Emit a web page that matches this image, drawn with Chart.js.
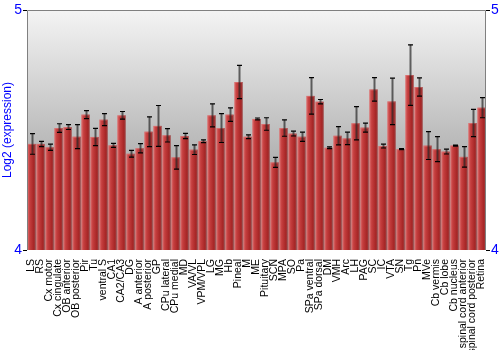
<!DOCTYPE html>
<html>
<head>
<meta charset="utf-8">
<script src="https://cdn.jsdelivr.net/npm/chart.js@4"></script>
<style>
  html, body { margin: 0; padding: 0; background: #fff; }
  #wrap { width: 500px; height: 350px; }
</style>
</head>
<body>
<div id="wrap"><canvas id="expr"></canvas></div>
<script>
const labels = ['LS', 'RS', 'Cx motor', 'Cx cingulate', 'OB anterior', 'OB posterior', 'Pir', 'Tu',
    'ventral S', 'CA1', 'CA2/CA3', 'DG', 'A anterior', 'A posterior', 'GP', 'CPu lateral', 'CPu medial',
    'MD', 'VA/VL', 'VPM/VPL', 'LG', 'MG', 'Hb', 'Pineal', 'M', 'ME', 'Pituitary', 'SCN', 'MPA', 'SO',
    'Pa', 'SPa ventral', 'SPa dorsal', 'DM', 'VMH', 'Arc', 'LH', 'PAG', 'SC', 'IC', 'VTA', 'SN', 'Tg',
    'Pn', 'MVe', 'Cb vermis', 'Cb lobe', 'Cb nucleus', 'spinal cord anterior', 'spinal cord posterior', 'Retina'];
const values = [4.442, 4.442, 4.428, 4.508, 4.512, 4.472, 4.564, 4.471,
    4.543, 4.436, 4.561, 4.401, 4.424, 4.493, 4.517, 4.478, 4.386,
    4.475, 4.418, 4.453, 4.561, 4.508, 4.564, 4.700, 4.472, 4.546, 4.525, 4.365, 4.508, 4.485,
    4.472, 4.642, 4.618, 4.426, 4.476, 4.465, 4.528, 4.510, 4.669, 4.433, 4.619, 4.420, 4.729,
    4.679, 4.435, 4.420, 4.410, 4.435, 4.388, 4.529, 4.593];
const errors = [0.043, 0.011, 0.013, 0.018, 0.010, 0.050, 0.017, 0.036,
    0.025, 0.008, 0.016, 0.014, 0.019, 0.062, 0.085, 0.028, 0.049,
    0.011, 0.020, 0.006, 0.048, 0.060, 0.028, 0.069, 0.008, 0.004, 0.026, 0.021, 0.034, 0.010,
    0.019, 0.076, 0.009, 0.004, 0.038, 0.026, 0.069, 0.019, 0.049, 0.008, 0.097, 0.002, 0.126,
    0.038, 0.058, 0.052, 0.010, 0.002, 0.043, 0.057, 0.042];
const yTicks = [4, 5];

// grey gradient behind the bars + frame
const plotBack = {
    id: 'plotBack',
    beforeDatasetsDraw(chart) {
        const {ctx, chartArea: a} = chart;
        const g = ctx.createLinearGradient(0, a.top, 0, a.bottom);
        g.addColorStop(0, '#f4f4f4');
        g.addColorStop(1, '#8a8a8a');
        ctx.save();
        ctx.fillStyle = g;
        ctx.fillRect(a.left, a.top, a.right - a.left, a.bottom - a.top);
        ctx.restore();
    },
    afterDraw(chart) {
        const {ctx, chartArea: a} = chart;
        const l = Math.round(a.left) + 0.5, r = Math.round(a.right) - 0.5, t = Math.round(a.top) + 0.5;
        ctx.save();
        ctx.strokeStyle = '#808080';
        ctx.lineWidth = 1;
        ctx.beginPath();
        ctx.moveTo(l, a.bottom);
        ctx.lineTo(l, t);
        ctx.lineTo(r, t);
        ctx.lineTo(r, a.bottom);
        ctx.stroke();
        ctx.restore();
    }
};

// shaded bars and error bars
const barShade = {
    id: 'barShade',
    afterDatasetsDraw(chart) {
        const {ctx, chartArea: a} = chart;
        const meta = chart.getDatasetMeta(0);
        const yScale = chart.scales.y;
        ctx.save();
        ctx.beginPath();
        ctx.rect(a.left, a.top, a.right - a.left, a.bottom - a.top);
        ctx.clip();
        meta.data.forEach((bar, i) => {
            const {x, y, width} = bar.getProps(['x', 'y', 'width'], true);
            const base = a.bottom;
            const left = x - width / 2;
            const g = ctx.createLinearGradient(left, 0, left + width, 0);
            g.addColorStop(0, '#d45a5a');
            g.addColorStop(0.35, '#c23b3b');
            g.addColorStop(0.8, '#a52525');
            g.addColorStop(1, '#6e1010');
            ctx.fillStyle = g;
            ctx.fillRect(left, y, width, base - y);
            ctx.strokeStyle = 'rgba(235,150,150,0.45)';
            ctx.lineWidth = 1;
            ctx.strokeRect(left + 0.5, y + 0.5, width - 1, base - y);
        });
        meta.data.forEach((bar, i) => {
            const x = Math.round(bar.x) + 0.5;
            const hi = yScale.getPixelForValue(values[i] + errors[i]);
            const lo = yScale.getPixelForValue(values[i] - errors[i]);
            ctx.strokeStyle = 'rgba(40,40,40,0.7)';
            ctx.lineWidth = 2;
            ctx.beginPath();
            ctx.moveTo(x, hi);
            ctx.lineTo(x, lo);
            ctx.stroke();
            ctx.strokeStyle = '#000';
            ctx.lineWidth = 1.2;
            ctx.beginPath();
            ctx.moveTo(x - 2.5, hi);
            ctx.lineTo(x + 2.5, hi);
            ctx.moveTo(x - 2.5, lo);
            ctx.lineTo(x + 2.5, lo);
            ctx.stroke();
        });
        ctx.restore();
    }
};

const config = {
    type: 'bar',
    data: {
        labels: labels,
        datasets: [{
            label: 'Log2 (expression)',
            data: values,
            backgroundColor: 'rgba(0,0,0,0)',
            barPercentage: 0.92,
            categoryPercentage: 1.0,
            yAxisID: 'y',
        }]
    },
    options: {
        responsive: true,
        maintainAspectRatio: false,
        animation: false,
        layout: { padding: { top: 10, bottom: 0, left: 0, right: 0 } },
        plugins: {
            legend: { display: false },
            tooltip: { enabled: false },
        },
        scales: {
            x: {
                grid: { display: false },
                border: { display: false },
                ticks: {
                    autoSkip: false,
                    minRotation: 90,
                    maxRotation: 90,
                    padding: 1,
                    color: '#000',
                    font: { family: 'Liberation Sans, Arial, sans-serif', size: 10.5 },
                },
                afterFit(scale) { scale.height = 100; },
            },
            y: {
                type: 'linear',
                position: 'left',
                min: 4,
                max: 5,
                afterBuildTicks(scale) { scale.ticks = yTicks.map(v => ({ value: v })); },
                grid: { drawOnChartArea: false, tickLength: 4, color: '#000' },
                border: { display: false },
                ticks: {
                    padding: 1,
                    color: '#0000ff',
                    font: { family: 'Liberation Sans, Arial, sans-serif', size: 14 },
                },
                title: {
                    display: true,
                    text: 'Log2 (expression)',
                    color: '#0000ff',
                    padding: 0,
                    font: { family: 'Liberation Sans, Arial, sans-serif', size: 12 },
                },
                afterFit(scale) { scale.width = 27; },
            },
            y1: {
                type: 'linear',
                position: 'right',
                min: 4,
                max: 5,
                afterBuildTicks(scale) { scale.ticks = yTicks.map(v => ({ value: v })); },
                grid: { drawOnChartArea: false, tickLength: 4, color: '#000' },
                border: { display: false },
                ticks: {
                    padding: 1,
                    color: '#0000ff',
                    font: { family: 'Liberation Sans, Arial, sans-serif', size: 14 },
                },
                afterFit(scale) { scale.width = 14; },
            },
        }
    },
    plugins: [plotBack, barShade],
};

new Chart(document.getElementById('expr').getContext('2d'), config);
</script>
</body>
</html>
